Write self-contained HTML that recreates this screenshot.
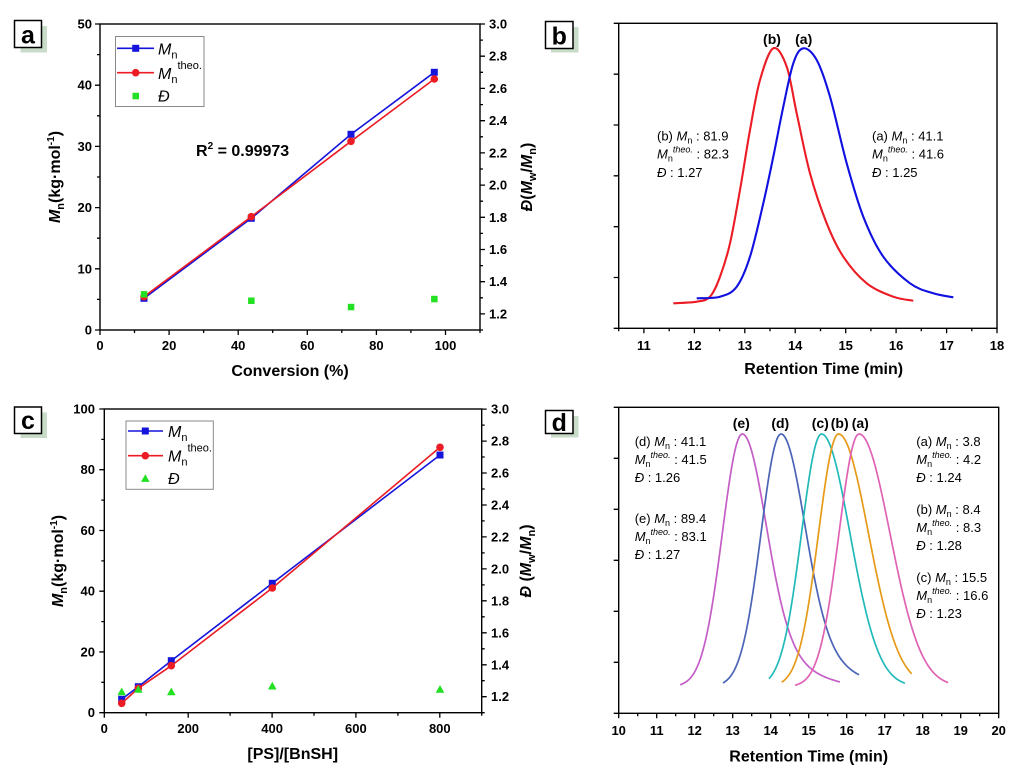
<!DOCTYPE html>
<html><head><meta charset="utf-8"><style>
html,body{margin:0;padding:0;background:#fff;}
svg{display:block;}
text{font-family:"Liberation Sans",Arial,sans-serif;fill:#000;}
.tk{font-size:13px;font-weight:bold;}
.ttl{font-size:16px;font-weight:bold;}
.ann{font-size:13px;}
.lab{font-size:14px;font-weight:bold;}
.big{font-size:25px;font-weight:bold;}
.leg{font-size:16px;}
</style></head><body>
<svg id="s" width="1024" height="776" viewBox="0 0 1024 776" xmlns="http://www.w3.org/2000/svg">
<rect width="1024" height="776" fill="#fff"/>

<!-- ================= PANEL A ================= -->
<rect x="20.5" y="26" width="26.5" height="26.5" fill="#c9dcc9"/>
<rect x="14.5" y="20.5" width="27" height="27" fill="#fff" stroke="#000" stroke-width="1.5"/>
<text x="28" y="43.3" class="big" text-anchor="middle">a</text>

<rect x="100" y="24" width="380" height="306" fill="none" stroke="#000" stroke-width="1.4"/>
<path stroke="#000" stroke-width="1.3" fill="none" d="
M95,330H100M95,268.8H100M95,207.6H100M95,146.4H100M95,85.2H100M95,24H100
M97,299.4H100M97,238.2H100M97,177H100M97,115.8H100M97,54.6H100
M480,313.9H485M480,281.7H485M480,249.5H485M480,217.3H485M480,185.1H485M480,152.9H485M480,120.7H485M480,88.4H485M480,56.2H485M480,24H485
M480,330H483M480,297.8H483M480,265.6H483M480,233.4H483M480,201.2H483M480,169H483M480,136.8H483M480,104.6H483M480,72.3H483M480,40.1H483
M100,330V335M169.1,330V335M238.2,330V335M307.3,330V335M376.4,330V335M445.5,330V335
M134.5,330V333M203.6,330V333M272.7,330V333M341.8,330V333M410.9,330V333M480,330V333"/>
<g class="tk" text-anchor="end">
<text x="92" y="334.5">0</text><text x="92" y="273.3">10</text><text x="92" y="212.1">20</text><text x="92" y="150.9">30</text><text x="92" y="89.7">40</text><text x="92" y="28.5">50</text>
</g>
<g class="tk">
<text x="489" y="318.4">1.2</text><text x="489" y="286.2">1.4</text><text x="489" y="254">1.6</text><text x="489" y="221.8">1.8</text><text x="489" y="189.6">2.0</text><text x="489" y="157.4">2.2</text><text x="489" y="125.2">2.4</text><text x="489" y="92.9">2.6</text><text x="489" y="60.7">2.8</text><text x="489" y="28.5">3.0</text>
</g>
<g class="tk" text-anchor="middle">
<text x="100" y="350">0</text><text x="169.1" y="350">20</text><text x="238.2" y="350">40</text><text x="307.3" y="350">60</text><text x="376.4" y="350">80</text><text x="445.5" y="350">100</text>
</g>
<text x="290" y="376" class="ttl" text-anchor="middle">Conversion (%)</text>
<text transform="translate(60,177) rotate(-90)" class="ttl" text-anchor="middle"><tspan font-style="italic">M</tspan><tspan font-size="11" dy="4">n</tspan><tspan dy="-4">(kg·mol</tspan><tspan font-size="10" dy="-6">-1</tspan><tspan dy="6">)</tspan></text>
<text transform="translate(532,177) rotate(-90)" class="ttl" text-anchor="middle"><tspan font-style="italic">Đ</tspan>(<tspan font-style="italic">M</tspan><tspan font-size="11" dy="4">w</tspan><tspan dy="-4">/</tspan><tspan font-style="italic">M</tspan><tspan font-size="11" dy="4">n</tspan><tspan dy="-4">)</tspan></text>
<text x="196" y="156" class="ttl">R<tspan font-size="10" dy="-7">2</tspan><tspan dy="7"> = 0.99973</tspan></text>

<polyline points="144,298.3 251.3,218.3 351,134.3 434.3,72.3" fill="none" stroke="#1414dc" stroke-width="1.6"/>
<g fill="#1414dc"><rect x="140.5" y="294.8" width="7" height="7"/><rect x="247.8" y="214.8" width="7" height="7"/><rect x="347.5" y="130.8" width="7" height="7"/><rect x="430.8" y="68.8" width="7" height="7"/></g>
<polyline points="144,296.7 251.3,216.7 351,141.3 434.3,79" fill="none" stroke="#ec1c24" stroke-width="1.6"/>
<g fill="#ec1c24"><circle cx="144" cy="296.7" r="3.8"/><circle cx="251.3" cy="216.7" r="3.8"/><circle cx="351" cy="141.3" r="3.8"/><circle cx="434.3" cy="79" r="3.8"/></g>
<g fill="#22e022"><rect x="140.8" y="291.1" width="6.5" height="6.5"/><rect x="248.1" y="297.5" width="6.5" height="6.5"/><rect x="347.8" y="303.8" width="6.5" height="6.5"/><rect x="431.1" y="295.8" width="6.5" height="6.5"/></g>

<rect x="115.5" y="36.5" width="88.5" height="70" fill="#fff" stroke="#8a8a8a" stroke-width="1"/>
<line x1="117" y1="48.3" x2="154" y2="48.3" stroke="#1414dc" stroke-width="1.6"/><rect x="132.2" y="44.8" width="7" height="7" fill="#1414dc"/>
<line x1="117" y1="72.7" x2="154" y2="72.7" stroke="#ec1c24" stroke-width="1.6"/><circle cx="135.7" cy="72.7" r="3.8" fill="#ec1c24"/>
<rect x="132.5" y="92.8" width="6.5" height="6.5" fill="#22e022"/>
<text x="158" y="54.5" class="leg"><tspan font-style="italic">M</tspan><tspan font-size="11" dy="4">n</tspan></text>
<text x="158" y="79" class="leg"><tspan font-style="italic">M</tspan><tspan font-size="11" dy="4">n</tspan><tspan font-size="11" dy="-14">theo.</tspan></text>
<text x="158" y="101.5" class="leg" font-style="italic">Đ</text>

<!-- ================= PANEL B ================= -->
<rect x="551" y="27" width="27.5" height="25.5" fill="#c9dcc9"/>
<rect x="545.5" y="21.5" width="27.5" height="27" fill="#fff" stroke="#000" stroke-width="1.5"/>
<text x="559.3" y="44.5" class="big" text-anchor="middle">b</text>

<rect x="618.7" y="23.3" width="378.3" height="305" fill="none" stroke="#000" stroke-width="1.4"/>
<path stroke="#000" stroke-width="1.3" fill="none" d="
M613.7,23.3H618.7M613.7,74.2H618.7M613.7,125H618.7M613.7,175.8H618.7M613.7,226.7H618.7M613.7,277.5H618.7M613.7,328.3H618.7
M643.9,328.3V333.3M694.4,328.3V333.3M744.8,328.3V333.3M795.2,328.3V333.3M845.7,328.3V333.3M896.1,328.3V333.3M946.6,328.3V333.3M997,328.3V333.3
M618.7,328.3V331.3M669.2,328.3V331.3M719.6,328.3V331.3M770,328.3V331.3M820.5,328.3V331.3M870.9,328.3V331.3M921.3,328.3V331.3M971.8,328.3V331.3"/>
<g class="tk" text-anchor="middle">
<text x="643.9" y="350">11</text><text x="694.4" y="350">12</text><text x="744.8" y="350">13</text><text x="795.2" y="350">14</text><text x="845.7" y="350">15</text><text x="896.1" y="350">16</text><text x="946.6" y="350">17</text><text x="997" y="350">18</text>
</g>
<text x="823.7" y="374" class="ttl" text-anchor="middle">Retention Time (min)</text>

<path class="cr" fill="none" stroke="#ec1c24" stroke-width="2.1" d="M673.3,303.3 L696.7,301.7 L710,296.7 L720,276.7 L730,243.3 L740,190 L750,130 L760,80 L773.3,48.3 L786.7,66.7 L796.7,113.3 L810,173.3 L826.7,223.3 L843.3,256.7 L866.7,283.3 L893.3,296.7 L913.3,300.7"/>
<path class="cr" fill="none" stroke="#1010e0" stroke-width="2.1" d="M696.7,298.3 L720,296.7 L736.7,286.7 L750,256.7 L763.3,203.3 L773.3,156.7 L783.3,106.7 L793.3,63.3 L803.3,48.3 L816.7,60 L830,96.7 L846.7,163.3 L863.3,216.7 L883.3,256.7 L910,283.3 L933.3,293.3 L953.3,297.3"/>

<text x="772" y="44" class="lab" text-anchor="middle">(b)</text>
<text x="803.7" y="44" class="lab" text-anchor="middle">(a)</text>

<g class="ann">
<text x="657" y="140.5">(b) <tspan font-style="italic">M</tspan><tspan font-size="9" dy="3">n</tspan><tspan dy="-3"> : 81.9</tspan></text>
<text x="657" y="158.5"><tspan font-style="italic">M</tspan><tspan font-size="9" dy="3">n</tspan><tspan font-size="9" font-style="italic" dy="-9">theo.</tspan><tspan dy="6"> : 82.3</tspan></text>
<text x="657" y="177"><tspan font-style="italic">Đ</tspan> : 1.27</text>
<text x="872" y="140.5">(a) <tspan font-style="italic">M</tspan><tspan font-size="9" dy="3">n</tspan><tspan dy="-3"> : 41.1</tspan></text>
<text x="872" y="158.5"><tspan font-style="italic">M</tspan><tspan font-size="9" dy="3">n</tspan><tspan font-size="9" font-style="italic" dy="-9">theo.</tspan><tspan dy="6"> : 41.6</tspan></text>
<text x="872" y="177"><tspan font-style="italic">Đ</tspan> : 1.25</text>
</g>

<!-- ================= PANEL C ================= -->
<rect x="20.5" y="412.5" width="26.5" height="25.5" fill="#c9dcc9"/>
<rect x="14.5" y="407" width="27" height="26.5" fill="#fff" stroke="#000" stroke-width="1.5"/>
<text x="28" y="429" class="big" text-anchor="middle">c</text>

<rect x="104.3" y="409" width="377.4" height="303.7" fill="none" stroke="#000" stroke-width="1.4"/>
<path stroke="#000" stroke-width="1.3" fill="none" d="
M99.3,712.7H104.3M99.3,651.96H104.3M99.3,591.2H104.3M99.3,530.5H104.3M99.3,469.7H104.3M99.3,409H104.3
M101.3,682.3H104.3M101.3,621.6H104.3M101.3,560.9H104.3M101.3,500.1H104.3M101.3,439.4H104.3
M481.7,696.7H486.7M481.7,664.8H486.7M481.7,632.8H486.7M481.7,600.8H486.7M481.7,568.9H486.7M481.7,536.9H486.7M481.7,505H486.7M481.7,473H486.7M481.7,441.1H486.7M481.7,409.1H486.7
M481.7,712.7H484.7M481.7,680.7H484.7M481.7,648.8H484.7M481.7,616.8H484.7M481.7,584.9H484.7M481.7,552.9H484.7M481.7,520.9H484.7M481.7,489H484.7M481.7,457H484.7M481.7,425.1H484.7
M104.3,712.7V717.7M188.2,712.7V717.7M272.1,712.7V717.7M355.9,712.7V717.7M439.8,712.7V717.7
M146.2,712.7V715.7M230.1,712.7V715.7M314,712.7V715.7M397.9,712.7V715.7M481.7,712.7V715.7"/>
<g class="tk" text-anchor="end">
<text x="95" y="717.2">0</text><text x="95" y="656.5">20</text><text x="95" y="595.7">40</text><text x="95" y="535">60</text><text x="95" y="474.2">80</text><text x="95" y="413.5">100</text>
</g>
<g class="tk">
<text x="491" y="701.2">1.2</text><text x="491" y="669.3">1.4</text><text x="491" y="637.3">1.6</text><text x="491" y="605.3">1.8</text><text x="491" y="573.4">2.0</text><text x="491" y="541.4">2.2</text><text x="491" y="509.5">2.4</text><text x="491" y="477.5">2.6</text><text x="491" y="445.6">2.8</text><text x="491" y="413.6">3.0</text>
</g>
<g class="tk" text-anchor="middle">
<text x="104.3" y="733">0</text><text x="188.2" y="733">200</text><text x="272.1" y="733">400</text><text x="355.9" y="733">600</text><text x="439.8" y="733">800</text>
</g>
<text x="292.7" y="759" class="ttl" text-anchor="middle">[PS]/[BnSH]</text>
<text transform="translate(63,561) rotate(-90)" class="ttl" text-anchor="middle"><tspan font-style="italic">M</tspan><tspan font-size="11" dy="4">n</tspan><tspan dy="-4">(kg·mol</tspan><tspan font-size="10" dy="-6">-1</tspan><tspan dy="6">)</tspan></text>
<text transform="translate(531,561) rotate(-90)" class="ttl" text-anchor="middle"><tspan font-style="italic">Đ</tspan> (<tspan font-style="italic">M</tspan><tspan font-size="11" dy="4">w</tspan><tspan dy="-4">/</tspan><tspan font-style="italic">M</tspan><tspan font-size="11" dy="4">n</tspan><tspan dy="-4">)</tspan></text>

<polyline points="121.7,699.3 138.3,686.7 171.3,660.7 272.3,583.3 440,455" fill="none" stroke="#1414dc" stroke-width="1.6"/>
<g fill="#1414dc"><rect x="118.2" y="695.8" width="7" height="7"/><rect x="134.8" y="683.2" width="7" height="7"/><rect x="167.8" y="657.2" width="7" height="7"/><rect x="268.8" y="579.8" width="7" height="7"/><rect x="436.5" y="451.5" width="7" height="7"/></g>
<polyline points="121.7,703.3 138.3,688.3 171.3,665.7 272.3,588 440,447.3" fill="none" stroke="#ec1c24" stroke-width="1.6"/>
<g fill="#ec1c24"><circle cx="121.7" cy="703.3" r="3.8"/><circle cx="138.3" cy="688.3" r="3.8"/><circle cx="171.3" cy="665.7" r="3.8"/><circle cx="272.3" cy="588" r="3.8"/><circle cx="440" cy="447.3" r="3.8"/></g>
<g fill="#22e022">
<polygon points="121.7,687.5 126,695.2 117.4,695.2"/><polygon points="138.3,685.1 142.6,692.8 134,692.8"/><polygon points="171.3,687.5 175.6,695.2 167,695.2"/><polygon points="272.3,681.8 276.6,689.5 268,689.5"/><polygon points="440,685.1 444.3,692.8 435.7,692.8"/>
</g>

<rect x="126" y="421" width="87.3" height="68.3" fill="#fff" stroke="#8a8a8a" stroke-width="1"/>
<line x1="128" y1="431" x2="163" y2="431" stroke="#1414dc" stroke-width="1.6"/><rect x="141.8" y="427.5" width="7" height="7" fill="#1414dc"/>
<line x1="128" y1="455.7" x2="163" y2="455.7" stroke="#ec1c24" stroke-width="1.6"/><circle cx="145.3" cy="455.7" r="3.8" fill="#ec1c24"/>
<polygon points="145.3,474.2 149.6,481.9 141,481.9" fill="#22e022"/>
<text x="168" y="437" class="leg"><tspan font-style="italic">M</tspan><tspan font-size="11" dy="4">n</tspan></text>
<text x="168" y="461.5" class="leg"><tspan font-style="italic">M</tspan><tspan font-size="11" dy="4">n</tspan><tspan font-size="11" dy="-14">theo.</tspan></text>
<text x="168" y="484" class="leg" font-style="italic">Đ</text>

<!-- ================= PANEL D ================= -->
<rect x="551" y="416" width="27.5" height="21.5" fill="#c9dcc9"/>
<rect x="545.5" y="410.5" width="27.5" height="23" fill="#fff" stroke="#000" stroke-width="1.5"/>
<text x="559.3" y="431" class="big" text-anchor="middle">d</text>

<rect x="618.7" y="407.3" width="380" height="306" fill="none" stroke="#000" stroke-width="1.4"/>
<path stroke="#000" stroke-width="1.3" fill="none" d="
M613.7,407.3H618.7M613.7,458.3H618.7M613.7,509.3H618.7M613.7,560.3H618.7M613.7,611.3H618.7M613.7,662.3H618.7M613.7,713.3H618.7
M618.7,713.3V718.3M656.7,713.3V718.3M694.7,713.3V718.3M732.7,713.3V718.3M770.7,713.3V718.3M808.7,713.3V718.3M846.7,713.3V718.3M884.7,713.3V718.3M922.7,713.3V718.3M960.7,713.3V718.3M998.7,713.3V718.3
M637.7,713.3V716.3M675.7,713.3V716.3M713.7,713.3V716.3M751.7,713.3V716.3M789.7,713.3V716.3M827.7,713.3V716.3M865.7,713.3V716.3M903.7,713.3V716.3M941.7,713.3V716.3M979.7,713.3V716.3"/>
<g class="tk" text-anchor="middle">
<text x="618.7" y="735">10</text><text x="656.7" y="735">11</text><text x="694.7" y="735">12</text><text x="732.7" y="735">13</text><text x="770.7" y="735">14</text><text x="808.7" y="735">15</text><text x="846.7" y="735">16</text><text x="884.7" y="735">17</text><text x="922.7" y="735">18</text><text x="960.7" y="735">19</text><text x="998.7" y="735">20</text>
</g>
<text x="808.7" y="761.5" class="ttl" text-anchor="middle">Retention Time (min)</text>

<path id="ce" fill="none" stroke="#c45ec6" stroke-width="1.7" d="M680,686.7 L690,681 L700,665.5 L707,642 L713.3,600 L725,513.3 L733.3,460 L742.3,434 L751.7,463.3 L763.3,513.3 L773.3,563.3 L781.7,600 L796.7,640 L816.7,668 L840,683.3"/>
<path id="cd" fill="none" stroke="#4a64b6" stroke-width="1.7" d="M723,686.7 L733,681 L743,666 L751.7,600 L763.3,513.3 L771.7,463.3 L781,434 L790,463.3 L800,513.3 L810,563.3 L819.3,600 L833.3,636.7 L846.7,666.7 L859.3,679.3"/>
<path id="cc" fill="none" stroke="#22b9b9" stroke-width="1.7" d="M769,686.7 L777,676 L785,650 L793.3,600 L803.3,513.3 L811.7,463.3 L821.5,434 L830,446.7 L838.3,486.7 L846.7,540 L860,592 L870,623.3 L883.3,656.7 L895,676.7 L905,685"/>
<path id="cb" fill="none" stroke="#e69a18" stroke-width="1.7" d="M781.7,686.7 L790,682 L800,665 L810,620 L818.3,560 L826.7,495 L833.3,450 L838.5,434 L845,440 L853.3,470 L863.3,516.7 L873.3,566.7 L881.7,590 L891.7,623.3 L901.7,656.7 L911.7,678.3"/>
<path id="ca" fill="none" stroke="#df62b4" stroke-width="1.7" d="M795,686.7 L805,682 L815,665 L826.7,630 L836.7,570 L846.7,500 L853.3,455 L859,434 L866.7,443.3 L876.7,476.7 L890,535 L900,585 L913.3,628 L930,663.3 L948.3,684"/>

<g class="lab" text-anchor="middle">
<text x="741.3" y="428">(e)</text><text x="780.3" y="428">(d)</text><text x="820.3" y="428">(c)</text><text x="839.7" y="428">(b)</text><text x="860.3" y="428">(a)</text>
</g>

<g class="ann">
<text x="634.7" y="446">(d) <tspan font-style="italic">M</tspan><tspan font-size="9" dy="3">n</tspan><tspan dy="-3"> : 41.1</tspan></text>
<text x="634.7" y="464"><tspan font-style="italic">M</tspan><tspan font-size="9" dy="3">n</tspan><tspan font-size="9" font-style="italic" dy="-9">theo.</tspan><tspan dy="6"> : 41.5</tspan></text>
<text x="634.7" y="482"><tspan font-style="italic">Đ</tspan> : 1.26</text>
<text x="634.7" y="523">(e) <tspan font-style="italic">M</tspan><tspan font-size="9" dy="3">n</tspan><tspan dy="-3"> : 89.4</tspan></text>
<text x="634.7" y="541"><tspan font-style="italic">M</tspan><tspan font-size="9" dy="3">n</tspan><tspan font-size="9" font-style="italic" dy="-9">theo.</tspan><tspan dy="6"> : 83.1</tspan></text>
<text x="634.7" y="559"><tspan font-style="italic">Đ</tspan> : 1.27</text>

<text x="916.3" y="446">(a) <tspan font-style="italic">M</tspan><tspan font-size="9" dy="3">n</tspan><tspan dy="-3"> : 3.8</tspan></text>
<text x="916.3" y="464"><tspan font-style="italic">M</tspan><tspan font-size="9" dy="3">n</tspan><tspan font-size="9" font-style="italic" dy="-9">theo.</tspan><tspan dy="6"> : 4.2</tspan></text>
<text x="916.3" y="482"><tspan font-style="italic">Đ</tspan> : 1.24</text>
<text x="916.3" y="514">(b) <tspan font-style="italic">M</tspan><tspan font-size="9" dy="3">n</tspan><tspan dy="-3"> : 8.4</tspan></text>
<text x="916.3" y="532"><tspan font-style="italic">M</tspan><tspan font-size="9" dy="3">n</tspan><tspan font-size="9" font-style="italic" dy="-9">theo.</tspan><tspan dy="6"> : 8.3</tspan></text>
<text x="916.3" y="550"><tspan font-style="italic">Đ</tspan> : 1.28</text>
<text x="916.3" y="582">(c) <tspan font-style="italic">M</tspan><tspan font-size="9" dy="3">n</tspan><tspan dy="-3"> : 15.5</tspan></text>
<text x="916.3" y="600"><tspan font-style="italic">M</tspan><tspan font-size="9" dy="3">n</tspan><tspan font-size="9" font-style="italic" dy="-9">theo.</tspan><tspan dy="6"> : 16.6</tspan></text>
<text x="916.3" y="618"><tspan font-style="italic">Đ</tspan> : 1.23</text>
</g>
</svg>
<script>
(function(){
  var ps=document.querySelectorAll('path.cr');
  for(var k=0;k<ps.length;k++){
    var nums=ps[k].getAttribute('d').match(/-?\d+(\.\d+)?/g).map(Number);
    var p=[];for(var i=0;i<nums.length;i+=2)p.push([nums[i],nums[i+1]]);
    var d='M'+p[0][0]+','+p[0][1];
    for(var i=0;i<p.length-1;i++){
      var p0=p[i-1]||p[i],p1=p[i],p2=p[i+1],p3=p[i+2]||p2;
      var c1x=p1[0]+(p2[0]-p0[0])/6,c1y=p1[1]+(p2[1]-p0[1])/6;
      var c2x=p2[0]-(p3[0]-p1[0])/6,c2y=p2[1]-(p3[1]-p1[1])/6;
      d+=' C'+c1x.toFixed(2)+','+c1y.toFixed(2)+' '+c2x.toFixed(2)+','+c2y.toFixed(2)+' '+p2[0]+','+p2[1];
    }
    ps[k].setAttribute('d',d);
  }
  function mix(dx){return 0.8*Math.exp(-0.5*Math.pow(dx/23,2))+0.2*Math.exp(-0.5*Math.pow(dx/45,2));}
  function gau(s){return function(dx){return Math.exp(-0.5*Math.pow(dx/s,2));};}
  var defs=[['ce',742.3,680,840,mix],['cd',781,723,859.3,mix],['cc',821.5,769,905,gau(28.5)],['cb',838.5,781.7,911.7,gau(30)],['ca',859,795,948.3,gau(31)]];
  defs.forEach(function(a){
    var el=document.getElementById(a[0]);if(!el)return;
    var pk=a[1],x0=a[2],x1=a[3],R=a[4],d='';
    for(var x=x0;x<=x1+0.001;x+=1){
      var dx=x-pk,f=dx<0?Math.exp(-0.5*Math.pow(dx/20,2)):R(dx);
      var y=686.7-252.7*f;
      d+=(d?' L':'M')+x.toFixed(1)+','+y.toFixed(2);
    }
    el.setAttribute('d',d);
  });
})();
</script>
</body></html>
